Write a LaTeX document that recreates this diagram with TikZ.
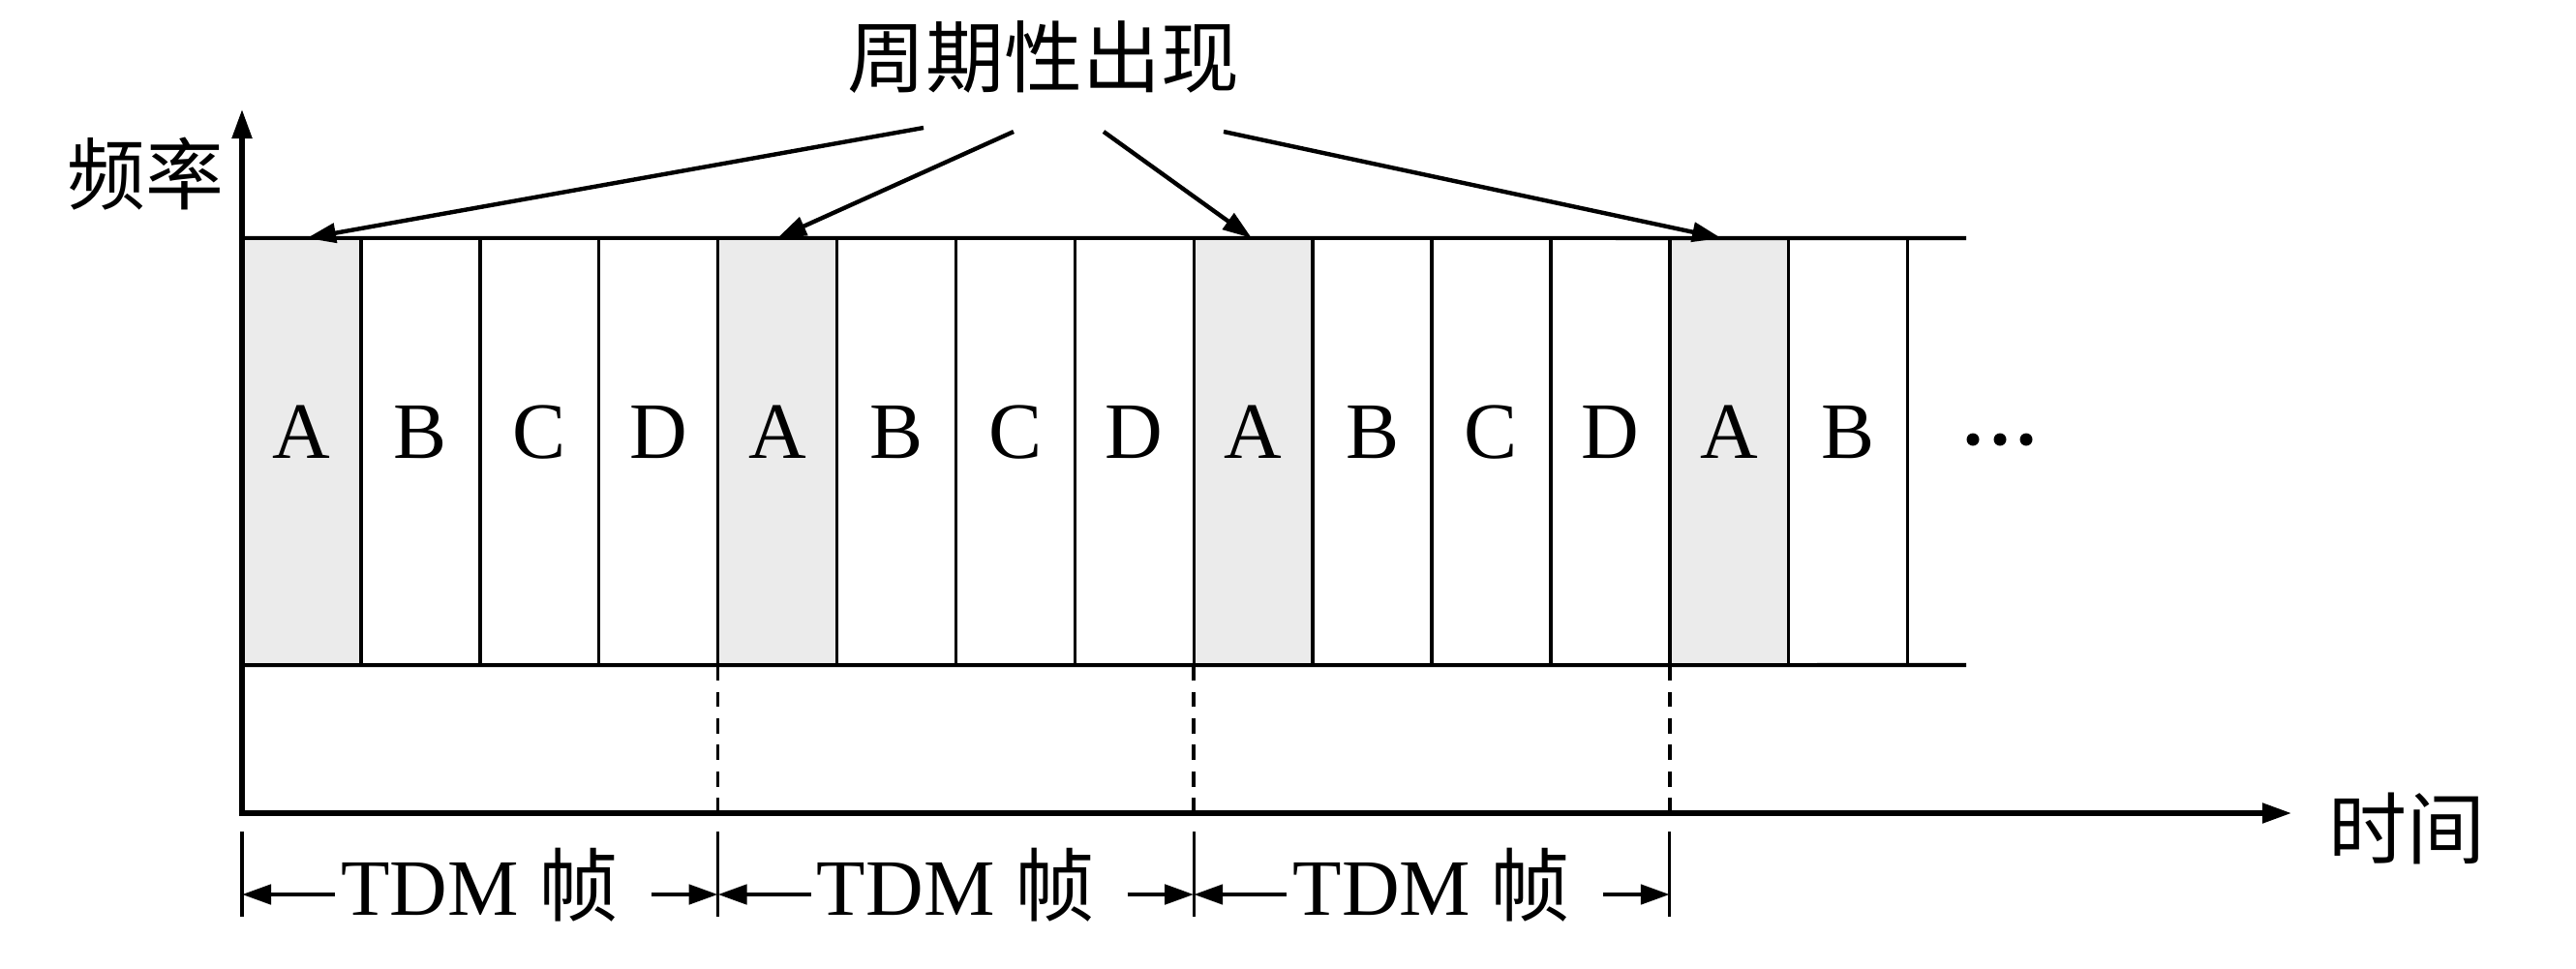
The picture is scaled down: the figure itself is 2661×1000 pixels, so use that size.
\documentclass[tikz,border=0pt]{standalone}
\usepackage{fontspec}
\setmainfont{Liberation Serif}
\newfontfamily\cjk{Noto Sans CJK SC}
\usetikzlibrary{arrows.meta}
\definecolor{slotgray}{HTML}{EBEBEB}
\begin{document}
\begin{tikzpicture}[x=0.01cm,y=-0.01cm,
  tip/.style={-{Triangle[length=0.3cm,width=0.2cm]}},
  axis/.style={line width=1.45pt,{Triangle[length=0.3cm,width=0.2cm]}-{Triangle[length=0.3cm,width=0.2cm]}},
  band/.style={line width=1.15pt},
  sep/.style={line width=0.95pt},
  guide/.style={line width=1.05pt,dash pattern=on 4.5pt off 3.3pt},
  tickline/.style={line width=0.95pt},
  pointer/.style={line width=1.25pt,tip},
  framearrow/.style={line width=1.35pt,tip},
  cellbox/.style={rectangle,minimum width=1.229cm,minimum height=4.41cm,inner sep=0,outer sep=0},
  slot/.style={font=\fontsize{23.5}{28}\selectfont,inner sep=0,anchor=base},
  cjklabel/.style={font=\cjk\fontsize{23}{28}\selectfont,inner sep=0}
]
\useasboundingbox (0,0) rectangle (2661,1000);

% cells
\foreach \i in {1,...,14} {
  \node[cellbox] (c\i) at ({250+122.9*(\i-0.5)},466.5) {};
}
\foreach \i in {1,5,9,13} {
  \fill[slotgray] (c\i.north west) rectangle (c\i.south east);
}

% axes
\coordinate (O) at (250,840);
\coordinate (ytip) at (250,113);
\coordinate (xtip) at (2367,840);
\draw[axis] (ytip) -- (O) -- (xtip);

% band
\coordinate (bandTR) at (2031,246);
\coordinate (bandBR) at (2031,687);
\draw[band] (c1.north west) -- (bandTR);
\draw[band] (c1.south west) -- (bandBR);
\foreach \i in {1,...,14} {
  \draw[sep] (c\i.north east) -- (c\i.south east);
}

% dashed frame guides
\foreach \i in {4,8,12} {
  \draw[guide] (c\i.south east) -- (c\i.south east |- O);
}

% frame ticks and arrows
\foreach \k in {0,1,2,3} {
  \coordinate (ft\k) at ({250+491.6*\k},859);
  \coordinate (fb\k) at ({250+491.6*\k},947);
  \draw[tickline] (ft\k) -- (fb\k);
}
\foreach \k in {0,1,2} {
  \coordinate (fl\k) at ({250+491.6*\k},924);
  \coordinate (fr\k) at ({250+491.6*(\k+1)},924);
  \coordinate (fls\k) at ({250+491.6*\k+96},924);
  \coordinate (frs\k) at ({250+491.6*\k+423},924);
  \node[slot] (tdm\k) at ({250+491.6*\k+245.8},945) {TDM {\cjk 帧}};
  \draw[framearrow] (fls\k) -- (fl\k);
  \draw[framearrow] (frs\k) -- (fr\k);
}

% slot letters
\foreach \i/\t in {1/A,2/B,3/C,4/D,5/A,6/B,7/C,8/D,9/A,10/B,11/C,12/D,13/A,14/B} {
  \node[slot] (l\i) at ({250+122.9*(\i-0.5)},473) {\t};
}

% ellipsis
\foreach \j/\x in {1/2038,2/2066,3/2093} {
  \fill (\x,454) circle[radius=0.065cm];
}

% labels
\node[cjklabel] (period) at (1078,59) {周期性出现};
\node[cjklabel] (freq) at (150,180) {频率};
\node[cjklabel] (time) at (2486,856) {时间};

% pointers
\coordinate (p1) at (954,132);
\coordinate (p2) at (1047,136);
\coordinate (p3) at (1140,136);
\coordinate (p4) at (1264,136);
\coordinate (t1) at (317,246);
\coordinate (t2) at (803,246);
\coordinate (t3) at (1293,246);
\coordinate (t4) at (1778,246);
\foreach \j in {1,2,3,4} {
  \draw[pointer] (p\j) -- (t\j);
}
\end{tikzpicture}
\end{document}
